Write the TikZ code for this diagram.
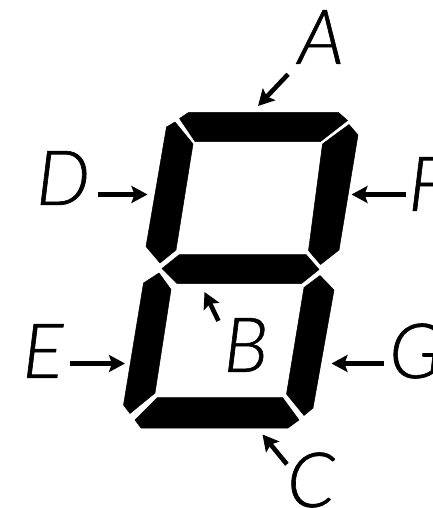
\documentclass[tikz,border=0pt]{standalone}
\usepackage{fontspec}
\setmainfont{Lato}
\newfontfamily\lblfont[ItalicFont={Lato Light Italic}, ItalicFeatures={FakeBold=0.8}]{Lato Light}
\usetikzlibrary{positioning, arrows.meta, calc}

\begin{document}
\begin{tikzpicture}[
    x=1pt, y=-1pt,
    >={Stealth[length=16pt, width=17pt, inset=3pt]},
    seg/.style={fill=black, draw=black, line width=0.5pt, line join=round},
    lbl/.style={font=\fontsize{76}{76}\selectfont\lblfont\itshape, inner sep=0pt, text=black},
    arr/.style={->, black, line width=4.6pt},
  ]
  \useasboundingbox (0,0) rectangle (432,508);

  % segments
  \fill[seg] (179.5,118.5) -- (188.5,112.5) -- (338.5,112.5) -- (347.5,120.5) -- (320.5,141.5) -- (195,141.5) -- cycle;
  \fill[seg] (175,122) -- (166.5,127) -- (146,246.5) -- (160,263) -- (176,250) -- (193,144) -- cycle;
  \fill[seg] (349,124.5) -- (358,135) -- (339,250) -- (320.5,264.5) -- (308.5,250.5) -- (322.5,144) -- cycle;
  \fill[seg] (162,268.5) -- (179.5,254.5) -- (306,254.5) -- (319,269.5) -- (301.5,283.5) -- (177,283.5) -- cycle;
  \fill[seg] (159,273) -- (143.5,283) -- (123.5,405) -- (130,413.5) -- (155,393) -- (171,289.5) -- cycle;
  \fill[seg] (320,275.5) -- (334,290) -- (313,408) -- (304,415.5) -- (286.5,394) -- (304,287.5) -- cycle;
  \fill[seg] (135,420) -- (157.5,397.5) -- (282.5,397.5) -- (299,420) -- (288,428) -- (141,428) -- cycle;

  % labels
  \node[lbl] (lblA) at (321,37) {A};
  \node[lbl] (lblB) at (246,345) {B};
  \node[lbl] (lblC) at (311,480) {C};
  \node[lbl] (lblD) at (63,178) {D};
  \node[lbl] (lblE) at (43,351) {E};
  \node[lbl, anchor=west] (lblF) at (408,184) {F};
  \node[lbl, anchor=west] (lblG) at (389,351) {G};

  \coordinate (tipA) at (258,106);
  \coordinate (tipB) at (204.5,292);
  \coordinate (tipC) at (262.5,434.5);
  \coordinate (tipD) at (147.5,194.5);
  \coordinate (tipE) at (125,363.5);
  \coordinate (tipF) at (351.5,194.5);
  \coordinate (tipG) at (331.5,363.5);

  \draw[arr, shorten <=14pt] (lblA.south west) -- (tipA);
  \draw[arr] ([xshift=-5pt, yshift=-3pt]lblB.north west) -- (tipB);
  \draw[arr] ([yshift=-12pt]lblC.north west) -- (tipC);
  \draw[arr, shorten <=8pt] (lblD.east |- tipD) -- (tipD);
  \draw[arr, shorten <=6pt] (lblE.east |- tipE) -- (tipE);
  \draw[arr, shorten <=2pt] (lblF.west |- tipF) -- (tipF);
  \draw[arr, shorten <=5pt] (lblG.west |- tipG) -- (tipG);
\end{tikzpicture}
\end{document}
